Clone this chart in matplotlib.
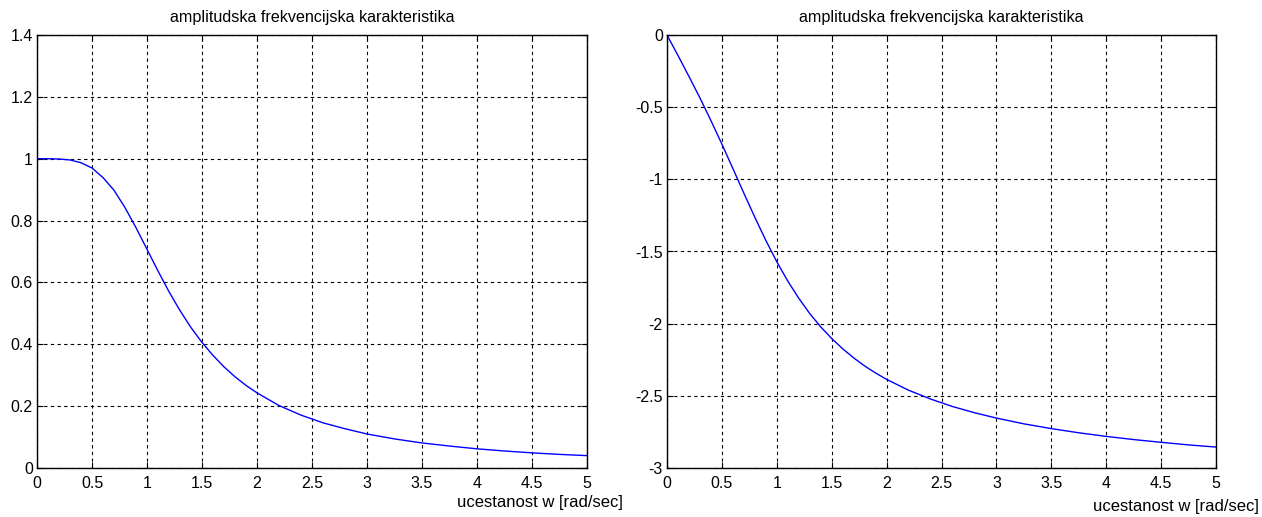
import matplotlib.pyplot as plt

plt.rcParams['font.family'] = ['Liberation Sans', 'DejaVu Sans']

# frequency samples
w = [0, 0.1, 0.2, 0.3, 0.4, 0.5, 0.6, 0.7, 0.8, 0.9, 1.0, 1.1, 1.2, 1.3, 1.4,
     1.5, 1.6, 1.7, 1.8, 1.9, 2.0, 2.2, 2.4, 2.6, 2.8, 3.0, 3.25, 3.5, 3.75,
     4.0, 4.25, 4.5, 4.75, 5.0]

amp = [1.000, 1.000, 0.999, 0.996, 0.987, 0.970, 0.939, 0.898, 0.842, 0.777,
       0.707, 0.637, 0.570, 0.509, 0.454, 0.406, 0.364, 0.327, 0.295, 0.267,
       0.243, 0.202, 0.171, 0.146, 0.127, 0.110, 0.094, 0.081, 0.071, 0.062,
       0.055, 0.049, 0.044, 0.040]

phase = [0.000, -0.142, -0.287, -0.436, -0.593, -0.756, -0.925, -1.096,
         -1.263, -1.423, -1.571, -1.705, -1.824, -1.930, -2.022, -2.103,
         -2.174, -2.237, -2.293, -2.342, -2.386, -2.461, -2.522, -2.574,
         -2.617, -2.654, -2.694, -2.727, -2.756, -2.781, -2.803, -2.822,
         -2.840, -2.855]

xticks = [0, 0.5, 1, 1.5, 2, 2.5, 3, 3.5, 4, 4.5, 5]
xticklabels = ['0', '0.5', '1', '1.5', '2', '2.5', '3', '3.5', '4', '4.5', '5']
amp_ticks = [0, 0.2, 0.4, 0.6, 0.8, 1, 1.2, 1.4]
amp_labels = ['0', '0.2', '0.4', '0.6', '0.8', '1', '1.2', '1.4']
ph_ticks = [-3, -2.5, -2, -1.5, -1, -0.5, 0]
ph_labels = ['-3', '-2.5', '-2', '-1.5', '-1', '-0.5', '0']

title = 'amplitudska frekvencijska karakteristika'
xlab = 'ucestanost w [rad/sec]'

fig = plt.figure(figsize=(12.62, 5.17), dpi=100)
ax1 = fig.add_axes([37/1262, 49/517, 550/1262, 433/517])
ax2 = fig.add_axes([667/1262, 49/517, 549/1262, 433/517])


def style(ax, yt, yl, ylim):
    ax.set_xlim(0, 5)
    ax.set_ylim(*ylim)
    ax.set_xticks(xticks)
    ax.set_xticklabels(xticklabels)
    ax.set_yticks(yt)
    ax.set_yticklabels(yl)
    ax.grid(True, color='black', linestyle=(0, (3, 3)), linewidth=0.8)
    ax.tick_params(direction='in', length=4, labelsize=11.5, pad=3,
                   top=True, right=True)
    ax.tick_params(axis='x', pad=6)
    for s in ax.spines.values():
        s.set_linewidth(1.0)


ax1.plot(w, amp, color='#0000ff', linewidth=1.0)
style(ax1, amp_ticks, amp_labels, (0, 1.4))
ax2.plot(w, phase, color='#0000ff', linewidth=1.0)
style(ax2, ph_ticks, ph_labels, (-3, 0))

fig.text(312/1262, 1 - 22/517, title, ha='center', va='baseline', fontsize=11.6)
fig.text(941/1262, 1 - 22/517, title, ha='center', va='baseline', fontsize=11.6)
fig.text(623/1262, 1 - 503/517, xlab, ha='right', va='center', fontsize=12)
fig.text(1259/1262, 1 - 507/517, xlab, ha='right', va='center', fontsize=12)

fig.savefig('out.png', dpi=100)
